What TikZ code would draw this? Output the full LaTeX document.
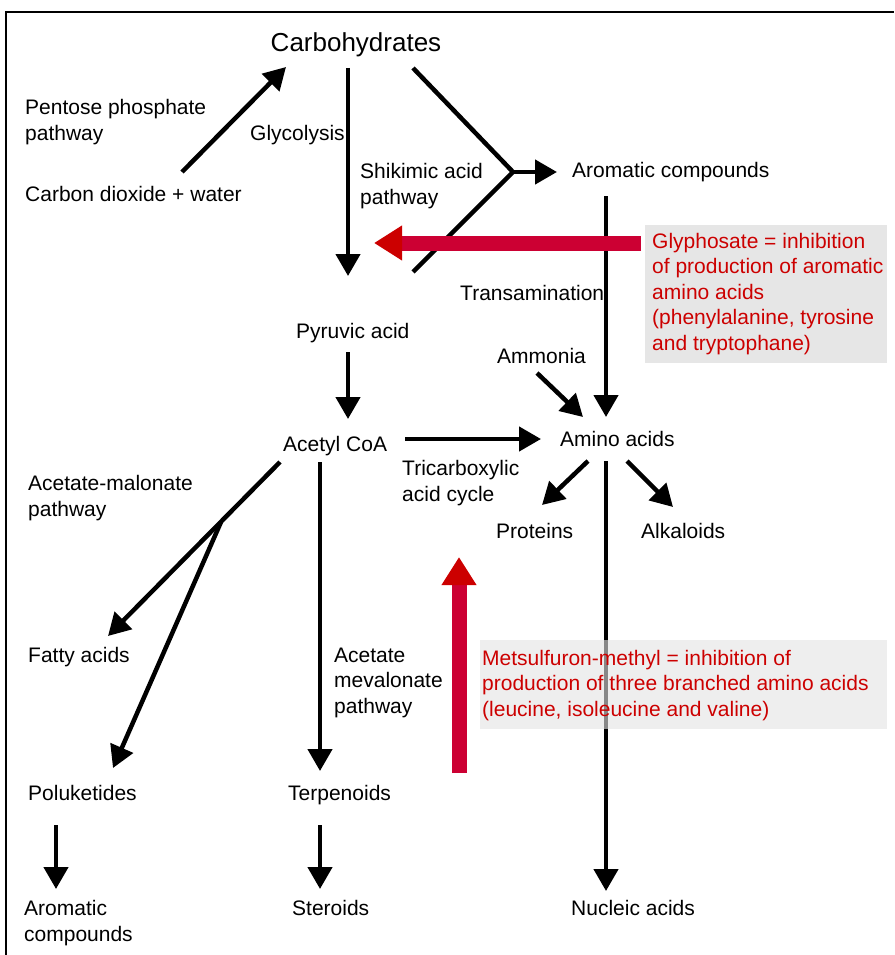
\documentclass[tikz,border=0pt]{standalone}
\usepackage{fontspec}
\setmainfont{Liberation Sans}
\usetikzlibrary{arrows.meta}
\definecolor{redtxt}{HTML}{CC0000}
\definecolor{redshaft}{HTML}{CC0033}
\definecolor{redhead}{HTML}{CC0000}
\definecolor{boxgray}{HTML}{E6E6E6}
\begin{document}
\begin{tikzpicture}[x=1pt,y=-1pt,
  lbl/.style={anchor=base west, inner sep=0pt, align=left, font=\fontsize{21}{25.5}\selectfont},
  redlbl/.style={lbl, text=redtxt},
  arr/.style={line width=4.5pt, -{Triangle[length=22pt,width=24pt]}},
  plain/.style={line width=4.5pt},
  redarr/.style={line width=15pt, draw=redshaft, -{Triangle[length=28pt,width=33pt,color=redhead]}}]
\useasboundingbox (0,0) rectangle (894,955);
\draw[line width=2pt] (6,955) -- (6,12) -- (894,12);

% nodes (multi-line nodes are placed by the baseline of their last line)
\node[anchor=base, inner sep=0pt, font=\fontsize{26}{30}\selectfont] (carb) at (356,52) {Carbohydrates};
\node[lbl] (pentose) at (25,140) {Pentose phosphate\\pathway};
\node[lbl] (glyc) at (250,140) {Glycolysis};
\node[lbl] (co2) at (25,201) {Carbon dioxide + water};
\node[lbl] (shik) at (360,204) {Shikimic acid\\pathway};
\node[lbl] (arom) at (572,177) {Aromatic compounds};
\node[lbl] (trans) at (460,300) {Transamination};
\node[lbl] (pyr) at (296,338) {Pyruvic acid};
\node[lbl] (ammonia) at (497,363) {Ammonia};
\node[lbl] (acetyl) at (283,451) {Acetyl CoA};
\node[lbl] (amino) at (560,446) {Amino acids};
\node[lbl] (tca) at (402,501) {Tricarboxylic\\acid cycle};
\node[lbl] (acetmal) at (28,516) {Acetate-malonate\\pathway};
\node[lbl] (proteins) at (496,538) {Proteins};
\node[lbl] (alk) at (641,538) {Alkaloids};
\node[lbl] (fatty) at (28,662) {Fatty acids};
\node[lbl] (mev) at (334,713) {Acetate\\mevalonate\\pathway};
\node[lbl] (polu) at (28,800) {Poluketides};
\node[lbl] (terp) at (288,800) {Terpenoids};
\node[lbl] (ster) at (292,915) {Steroids};
\node[lbl] (nucl) at (571,915) {Nucleic acids};
\node[lbl] (arom2) at (24,941) {Aromatic\\compounds};

% connector end points
\coordinate (co2s) at (182,172); \coordinate (carbw) at (286,67);
\coordinate (carbs1) at (348,68); \coordinate (pyrn) at (348,276);
\coordinate (carbs2) at (413,68); \coordinate (junc) at (513,172); \coordinate (shikend) at (413,272);
\coordinate (aromw) at (557,172);
\coordinate (aroms) at (606,196); \coordinate (aminon) at (606,417);
\coordinate (pyrs) at (348,352); \coordinate (acetyln) at (348,419);
\coordinate (acetyle) at (405,439); \coordinate (aminow) at (541,439);
\coordinate (ammse) at (537,373); \coordinate (aminonw) at (583,417);
\coordinate (aminosw) at (588,461); \coordinate (protn) at (542,505);
\coordinate (aminose) at (627,461); \coordinate (alkn) at (673,507);
\coordinate (aminos) at (606,461); \coordinate (nucln) at (606,891);
\coordinate (acetylsw) at (280,462); \coordinate (fattyn) at (108,636);
\coordinate (branch) at (221,522); \coordinate (polun) at (113,768);
\coordinate (acetyls) at (320,462); \coordinate (terpn) at (320,771);
\coordinate (polus) at (56,825); \coordinate (arom2n) at (56,889);
\coordinate (terps) at (320,825); \coordinate (stern) at (320,889);

% black connectors
\draw[arr] (co2s) -- (carbw);
\draw[arr] (carbs1) -- (pyrn);
\draw[plain, line join=miter] (carbs2) -- (junc) -- (shikend);
\draw[arr] (junc) -- (aromw);
\draw[arr] (aroms) -- (aminon);
\draw[arr] (pyrs) -- (acetyln);
\draw[arr] (acetyle) -- (aminow);
\draw[arr] (ammse) -- (aminonw);
\draw[arr] (aminosw) -- (protn);
\draw[arr] (aminose) -- (alkn);
\draw[arr] (aminos) -- (nucln);
\draw[arr] (acetylsw) -- (fattyn);
\draw[arr] (branch) -- (polun);
\draw[arr] (acetyls) -- (terpn);
\draw[arr] (polus) -- (arom2n);
\draw[arr] (terps) -- (stern);

% glyphosate
\fill[boxgray] (645,225) rectangle (887,363);
\node[redlbl] (glyph) at (652,350) {Glyphosate = inhibition\\of production of aromatic\\amino acids\\(phenylalanine, tyrosine\\and tryptophane)};
\coordinate (glyphw) at (641,243); \coordinate (glyphtip) at (374,243);
\draw[redarr] (glyphw) -- (glyphtip);

% metsulfuron
\fill[black!11, fill opacity=0.6] (480,640) rectangle (887,729);
\node[redlbl] (mets) at (482,716) {Metsulfuron-methyl = inhibition of\\production of three branched amino acids\\(leucine, isoleucine and valine)};
\coordinate (metss) at (459,773); \coordinate (metstip) at (459,557);
\draw[redarr] (metss) -- (metstip);
\end{tikzpicture}
\end{document}
